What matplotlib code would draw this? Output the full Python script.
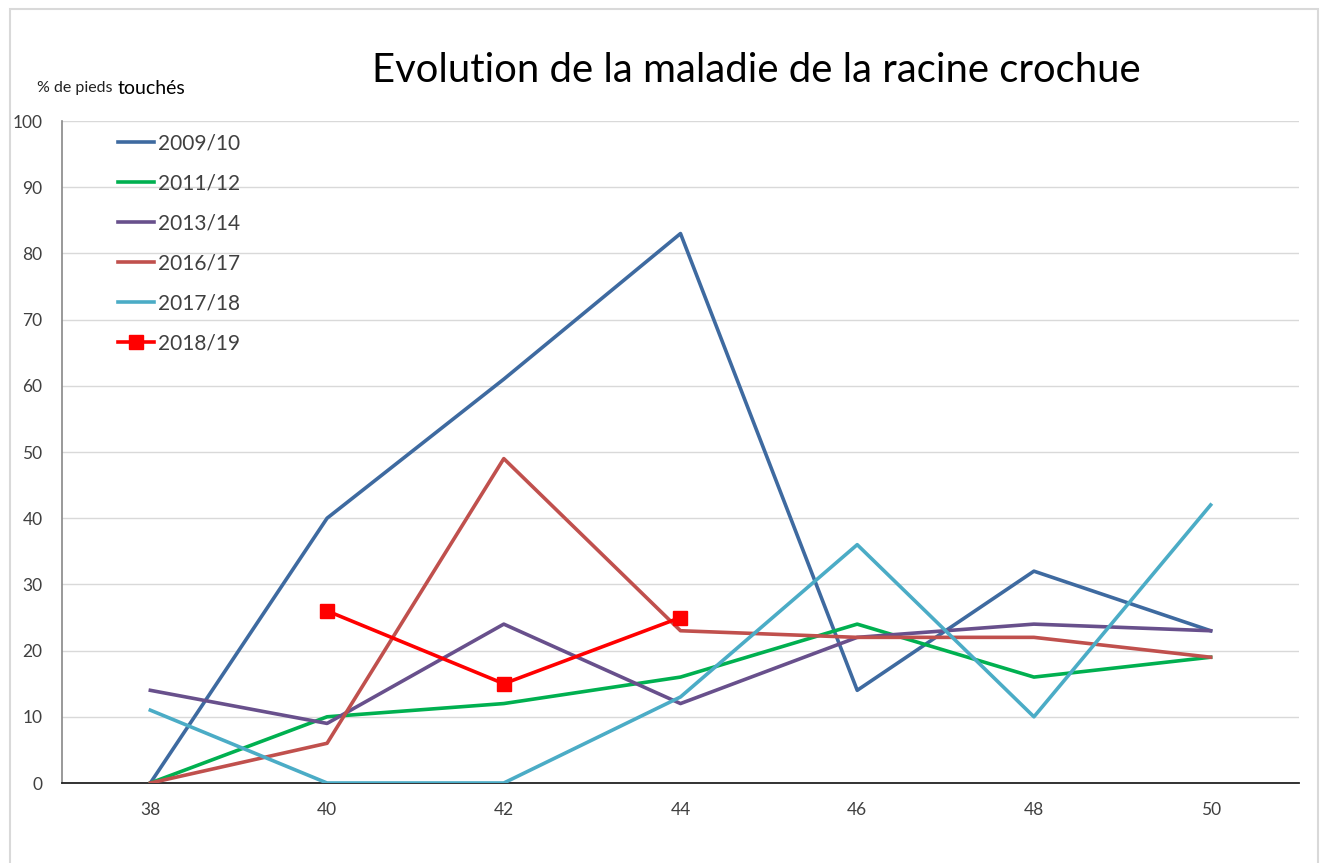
import matplotlib
matplotlib.use("Agg")
import matplotlib.pyplot as plt
import numpy as np
from matplotlib.patches import Rectangle

plt.rcParams['font.family'] = ['Lato', 'DejaVu Sans']

weeks = [38, 40, 42, 44, 46, 48, 50]
s0910 = [0, 40, 61, 83, 14, 32, 23]
s1112 = [0, 10, 12, 16, 24, 16, 19]
s1314 = [14, 9, 24, 12, 22, 24, 23]
s1617 = [0, 6, 49, 23, 22, 22, 19]
s1718 = [11, 0, 0, 13, 36, 10, 42]
s1819 = [np.nan, 26, 15, 25, np.nan, np.nan, np.nan]

labels = ["2009/10", "2011/12", "2013/14", "2016/17", "2017/18", "2018/19"]
colors = ["#3e6aa0", "#00b050", "#68508c", "#c0504d", "#4bacc6", "#ff0000"]
yticks = [0, 10, 20, 30, 40, 50, 60, 70, 80, 90, 100]

W, H = 1327, 863
fig = plt.figure(figsize=(W / 100, H / 100), dpi=100)
fig.patch.set_facecolor("white")

# outer chart border
fig.add_artist(Rectangle((10 / W, -0.05), (1318 - 10) / W, (H - 9) / H + 0.05,
                         transform=fig.transFigure, fill=False,
                         edgecolor="#d9d9d9", linewidth=1.5))

ax = fig.add_axes([62 / W, 1 - 783 / H, (1299 - 62) / W, (783 - 121) / H])

series = [s0910, s1112, s1314, s1617, s1718]
for vals, lab, col in zip(series, labels[:5], colors[:5]):
    ax.plot(weeks, vals, color=col, linewidth=2.6, label=lab,
            solid_joinstyle="round", zorder=3)
ax.plot(weeks, s1819, color=colors[5], linewidth=2.6, marker="s",
        markersize=10, label=labels[5], zorder=4)

ax.set_xlim(37.0, 51.0)
ax.set_ylim(0, 100)
ax.set_xticks(weeks)
ax.set_xticklabels([str(w) for w in weeks])
ax.set_yticks(yticks)
ax.set_yticklabels([str(v) for v in yticks])
ax.tick_params(axis="both", length=0, labelsize=12.5, colors="#404040")
ax.tick_params(axis="x", pad=14)
ax.tick_params(axis="y", pad=14)
ax.grid(axis="y", color="#d9d9d9", linewidth=1.0)
ax.set_axisbelow(True)
for s in ["top", "right"]:
    ax.spines[s].set_visible(False)
ax.spines["left"].set_color("#888888")
ax.spines["left"].set_linewidth(1.2)
ax.spines["bottom"].set_color("#222222")
ax.spines["bottom"].set_linewidth(1.3)

leg = ax.legend(loc="upper left", bbox_to_anchor=(43 / (1299 - 62), 1.0),
                frameon=False, fontsize=15, handlelength=1.75,
                handletextpad=0.2, labelspacing=0.96, borderaxespad=0.2)
for t in leg.get_texts():
    t.set_color("#404040")

fig.text(756 / W, 1 - 70 / H, "Evolution de la maladie de la racine crochue",
         ha="center", va="center", fontsize=28.8, color="black")
fig.text(37 / W, 1 - 88 / H, "% de pieds ", ha="left", va="center",
         fontsize=11.5, color="#222222")
fig.text(118 / W, 1 - 88 / H, "touchés", ha="left", va="center",
         fontsize=14, color="black")

fig.savefig("out.png", dpi=100, facecolor="white")
